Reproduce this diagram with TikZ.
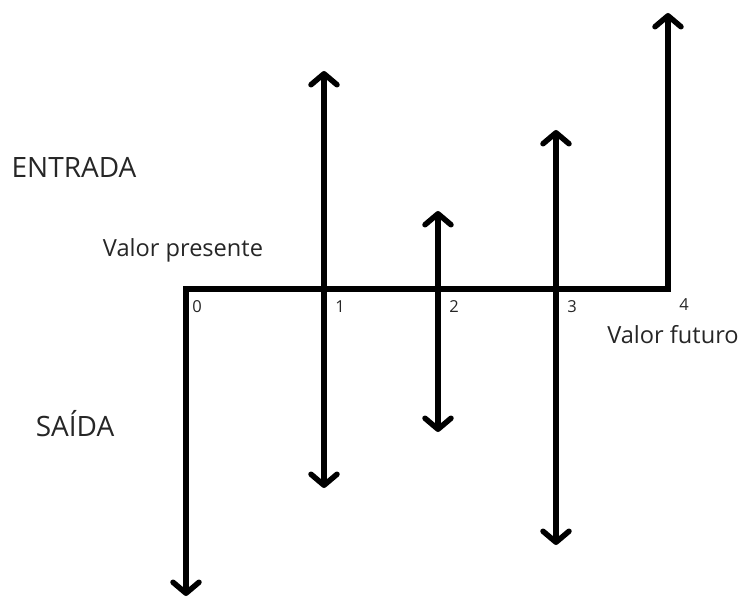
\documentclass[tikz,border=0pt]{standalone}
\usepackage{fontspec}
\setmainfont{Open Sans}
\usetikzlibrary{arrows.meta}
\begin{document}
\begin{tikzpicture}[x=1pt,y=-1pt,
  flow/.style={line width=5.5pt, line join=miter,
    arrows={Straight Barb[length=11pt,width=26pt,line cap=round,line join=round]-Straight Barb[length=11pt,width=26pt,line cap=round,line join=round]}},
  lbl/.style={inner sep=0pt, font=\fontsize{23.6}{27}\selectfont, text=black!85},
  big/.style={inner sep=0pt, font=\fontsize{28}{32}\selectfont, text=black!85},
  num/.style={inner sep=0pt, font=\fontsize{16.5}{19}\selectfont, text=black!85}]
\useasboundingbox (0,0) rectangle (740,600);
% main time line
\coordinate (d0) at (186,596);
\coordinate (c0) at (186,289);
\coordinate (c4) at (668,289);
\coordinate (u4) at (668,13);
\draw[flow] (d0) -- (c0) -- (c4) -- (u4);
% cash flow arrows
\coordinate (u1) at (324,71);  \coordinate (d1) at (324,488);
\coordinate (u2) at (438,211); \coordinate (d2) at (438,432);
\coordinate (u3) at (556,130); \coordinate (d3) at (556,545);
\draw[flow] (d1) -- (u1);
\draw[flow] (d2) -- (u2);
\draw[flow] (d3) -- (u3);
% labels
\node[num] (n0) at (197,307) {0};
\node[num] (n1) at (340,307) {1};
\node[num] (n2) at (454,307) {2};
\node[num] (n3) at (572,307) {3};
\node[num] (n4) at (684,305) {4};
\node[lbl] (vf) at (673,335) {Valor futuro};
\node[lbl] (vp) at (183,250) {Valor presente};
\node[big] (ent) at (74,167) {ENTRADA};
\node[big] (sai) at (75,424) {SAÍDA};
\end{tikzpicture}
\end{document}
